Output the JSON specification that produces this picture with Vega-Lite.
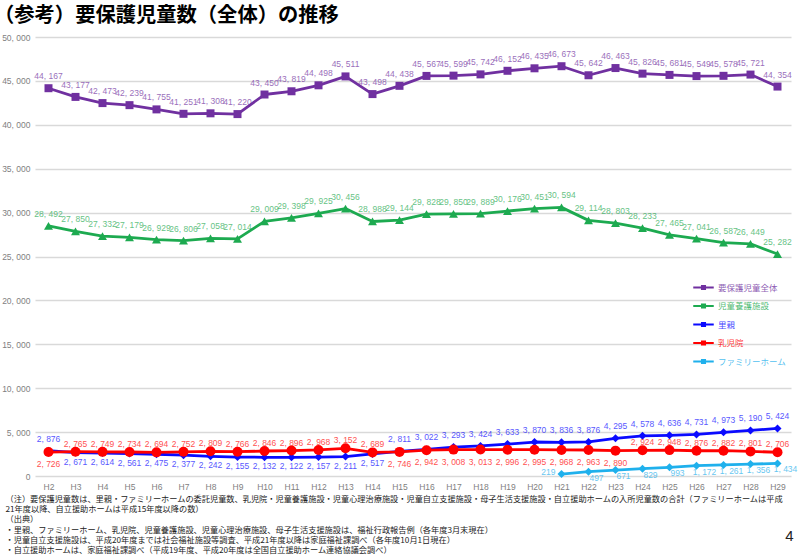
{
  "$schema": "https://vega.github.io/schema/vega-lite/v6.json",
  "autosize": {"type": "none"},
  "width": 756,
  "height": 439,
  "padding": {"left": 35, "top": 37, "right": 9, "bottom": 80},
  "background": "white",
  "config": {
    "locale": {"number": {"decimal": ".", "thousands": ", ", "grouping": [3], "currency": ["¥", ""]}},
    "view": {"stroke": null}
  },
  "title": {
    "text": "（参考）要保護児童数（全体）の推移",
    "anchor": "start",
    "frame": "group",
    "font": "Noto Sans CJK JP",
    "fontSize": 20.3,
    "fontWeight": "bold",
    "color": "#000000",
    "dx": -41,
    "dy": 19.5,
    "baseline": "alphabetic",
    "offset": 10
  },
  "data": {"values": [
    {"year": "H2", "series": "要保護児童全体", "value": 44167},
    {"year": "H3", "series": "要保護児童全体", "value": 43177},
    {"year": "H4", "series": "要保護児童全体", "value": 42473},
    {"year": "H5", "series": "要保護児童全体", "value": 42239},
    {"year": "H6", "series": "要保護児童全体", "value": 41755},
    {"year": "H7", "series": "要保護児童全体", "value": 41251},
    {"year": "H8", "series": "要保護児童全体", "value": 41308},
    {"year": "H9", "series": "要保護児童全体", "value": 41220},
    {"year": "H10", "series": "要保護児童全体", "value": 43450},
    {"year": "H11", "series": "要保護児童全体", "value": 43819},
    {"year": "H12", "series": "要保護児童全体", "value": 44498},
    {"year": "H13", "series": "要保護児童全体", "value": 45511},
    {"year": "H14", "series": "要保護児童全体", "value": 43498},
    {"year": "H15", "series": "要保護児童全体", "value": 44438},
    {"year": "H16", "series": "要保護児童全体", "value": 45567},
    {"year": "H17", "series": "要保護児童全体", "value": 45599},
    {"year": "H18", "series": "要保護児童全体", "value": 45742},
    {"year": "H19", "series": "要保護児童全体", "value": 46152},
    {"year": "H20", "series": "要保護児童全体", "value": 46435},
    {"year": "H21", "series": "要保護児童全体", "value": 46673},
    {"year": "H22", "series": "要保護児童全体", "value": 45642},
    {"year": "H23", "series": "要保護児童全体", "value": 46463},
    {"year": "H24", "series": "要保護児童全体", "value": 45826},
    {"year": "H25", "series": "要保護児童全体", "value": 45681},
    {"year": "H26", "series": "要保護児童全体", "value": 45549},
    {"year": "H27", "series": "要保護児童全体", "value": 45578},
    {"year": "H28", "series": "要保護児童全体", "value": 45721},
    {"year": "H29", "series": "要保護児童全体", "value": 44354},
    {"year": "H2", "series": "児童養護施設", "value": 28492},
    {"year": "H3", "series": "児童養護施設", "value": 27850},
    {"year": "H4", "series": "児童養護施設", "value": 27332},
    {"year": "H5", "series": "児童養護施設", "value": 27179},
    {"year": "H6", "series": "児童養護施設", "value": 26929},
    {"year": "H7", "series": "児童養護施設", "value": 26806},
    {"year": "H8", "series": "児童養護施設", "value": 27058},
    {"year": "H9", "series": "児童養護施設", "value": 27014},
    {"year": "H10", "series": "児童養護施設", "value": 29009},
    {"year": "H11", "series": "児童養護施設", "value": 29398},
    {"year": "H12", "series": "児童養護施設", "value": 29925},
    {"year": "H13", "series": "児童養護施設", "value": 30456},
    {"year": "H14", "series": "児童養護施設", "value": 28988},
    {"year": "H15", "series": "児童養護施設", "value": 29144},
    {"year": "H16", "series": "児童養護施設", "value": 29828},
    {"year": "H17", "series": "児童養護施設", "value": 29850},
    {"year": "H18", "series": "児童養護施設", "value": 29889},
    {"year": "H19", "series": "児童養護施設", "value": 30176},
    {"year": "H20", "series": "児童養護施設", "value": 30451},
    {"year": "H21", "series": "児童養護施設", "value": 30594},
    {"year": "H22", "series": "児童養護施設", "value": 29114},
    {"year": "H23", "series": "児童養護施設", "value": 28803},
    {"year": "H24", "series": "児童養護施設", "value": 28233},
    {"year": "H25", "series": "児童養護施設", "value": 27465},
    {"year": "H26", "series": "児童養護施設", "value": 27041},
    {"year": "H27", "series": "児童養護施設", "value": 26587},
    {"year": "H28", "series": "児童養護施設", "value": 26449},
    {"year": "H29", "series": "児童養護施設", "value": 25282},
    {"year": "H2", "series": "里親", "value": 2876},
    {"year": "H3", "series": "里親", "value": 2671},
    {"year": "H4", "series": "里親", "value": 2614},
    {"year": "H5", "series": "里親", "value": 2561},
    {"year": "H6", "series": "里親", "value": 2475},
    {"year": "H7", "series": "里親", "value": 2377},
    {"year": "H8", "series": "里親", "value": 2242},
    {"year": "H9", "series": "里親", "value": 2155},
    {"year": "H10", "series": "里親", "value": 2132},
    {"year": "H11", "series": "里親", "value": 2122},
    {"year": "H12", "series": "里親", "value": 2157},
    {"year": "H13", "series": "里親", "value": 2211},
    {"year": "H14", "series": "里親", "value": 2517},
    {"year": "H15", "series": "里親", "value": 2811},
    {"year": "H16", "series": "里親", "value": 3022},
    {"year": "H17", "series": "里親", "value": 3293},
    {"year": "H18", "series": "里親", "value": 3424},
    {"year": "H19", "series": "里親", "value": 3633},
    {"year": "H20", "series": "里親", "value": 3870},
    {"year": "H21", "series": "里親", "value": 3836},
    {"year": "H22", "series": "里親", "value": 3876},
    {"year": "H23", "series": "里親", "value": 4295},
    {"year": "H24", "series": "里親", "value": 4578},
    {"year": "H25", "series": "里親", "value": 4636},
    {"year": "H26", "series": "里親", "value": 4731},
    {"year": "H27", "series": "里親", "value": 4973},
    {"year": "H28", "series": "里親", "value": 5190},
    {"year": "H29", "series": "里親", "value": 5424},
    {"year": "H2", "series": "乳児院", "value": 2726},
    {"year": "H3", "series": "乳児院", "value": 2765},
    {"year": "H4", "series": "乳児院", "value": 2749},
    {"year": "H5", "series": "乳児院", "value": 2734},
    {"year": "H6", "series": "乳児院", "value": 2694},
    {"year": "H7", "series": "乳児院", "value": 2752},
    {"year": "H8", "series": "乳児院", "value": 2809},
    {"year": "H9", "series": "乳児院", "value": 2766},
    {"year": "H10", "series": "乳児院", "value": 2846},
    {"year": "H11", "series": "乳児院", "value": 2896},
    {"year": "H12", "series": "乳児院", "value": 2968},
    {"year": "H13", "series": "乳児院", "value": 3152},
    {"year": "H14", "series": "乳児院", "value": 2689},
    {"year": "H15", "series": "乳児院", "value": 2746},
    {"year": "H16", "series": "乳児院", "value": 2942},
    {"year": "H17", "series": "乳児院", "value": 3008},
    {"year": "H18", "series": "乳児院", "value": 3013},
    {"year": "H19", "series": "乳児院", "value": 2996},
    {"year": "H20", "series": "乳児院", "value": 2995},
    {"year": "H21", "series": "乳児院", "value": 2968},
    {"year": "H22", "series": "乳児院", "value": 2963},
    {"year": "H23", "series": "乳児院", "value": 2890},
    {"year": "H24", "series": "乳児院", "value": 2924},
    {"year": "H25", "series": "乳児院", "value": 2948},
    {"year": "H26", "series": "乳児院", "value": 2876},
    {"year": "H27", "series": "乳児院", "value": 2882},
    {"year": "H28", "series": "乳児院", "value": 2801},
    {"year": "H29", "series": "乳児院", "value": 2706},
    {"year": "H21", "series": "ファミリーホーム", "value": 219},
    {"year": "H22", "series": "ファミリーホーム", "value": 497},
    {"year": "H23", "series": "ファミリーホーム", "value": 671},
    {"year": "H24", "series": "ファミリーホーム", "value": 829},
    {"year": "H25", "series": "ファミリーホーム", "value": 993},
    {"year": "H26", "series": "ファミリーホーム", "value": 1172},
    {"year": "H27", "series": "ファミリーホーム", "value": 1261},
    {"year": "H28", "series": "ファミリーホーム", "value": 1356},
    {"year": "H29", "series": "ファミリーホーム", "value": 1434}
  ]},
  "encoding": {
    "x": {
      "field": "year", "type": "ordinal", "sort": null,
      "scale": {"domain": ["H2","H3","H4","H5","H6","H7","H8","H9","H10","H11","H12","H13","H14","H15","H16","H17","H18","H19","H20","H21","H22","H23","H24","H25","H26","H27","H28","H29"], "padding": 0.5},
      "axis": {
        "labelAngle": 0, "labelFont": "Liberation Sans, Arial, sans-serif", "labelFontSize": 8.5, "labelColor": "#7f7f7f",
        "labelPadding": 6, "ticks": false, "domain": false, "grid": false,
        "title": ["（注）要保護児童数は、里親・ファミリーホームの委託児童数、乳児院・児童養護施設・児童心理治療施設・児童自立支援施設・母子生活支援施設・自立援助ホームの入所児童数の合計（ファミリーホームは平成", "\u00a0\u00a0\u00a0\u00a0\u00a0\u00a0\u00a021年度以降、自立援助ホームは平成15年度以降の数）", "（出典）", "・里親、ファミリーホーム、乳児院、児童養護施設、児童心理治療施設、母子生活支援施設は、福祉行政報告例（各年度3月末現在）", "・児童自立支援施設は、平成20年度までは社会福祉施設等調査、平成21年度以降は家庭福祉課調べ（各年度10月1日現在）", "・自立援助ホームは、家庭福祉課調べ（平成19年度、平成20年度は全国自立援助ホーム連絡協議会調べ）"],
        "titleX": -30, "titleY": 19.5, "titleAlign": "left", "titleAnchor": "start", "titleBaseline": "top",
        "titleFont": "Noto Sans CJK JP", "titleFontSize": 8.2, "titleFontWeight": "normal", "titleColor": "#222222", "titleLineHeight": 10.2
      }
    },
    "y": {
      "field": "value", "type": "quantitative",
      "scale": {"domain": [0, 50000], "nice": false},
      "axis": {
        "values": [0,5000,10000,15000,20000,25000,30000,35000,40000,45000,50000],
        "format": ",.0f", "labelFont": "Liberation Sans, Arial, sans-serif", "labelFontSize": 8.5, "labelColor": "#7f7f7f",
        "labelPadding": 5, "ticks": false, "domain": false,
        "gridColor": "#d9d9d9", "gridWidth": 1.5,
        "title": "4", "titleAngle": 0, "titleX": 754, "titleY": 498, "titleAlign": "center", "titleBaseline": "middle",
        "titleFont": "Liberation Sans, Arial, sans-serif", "titleFontSize": 15, "titleFontWeight": "normal", "titleColor": "#222222"
      }
    },
    "color": {
      "field": "series", "type": "nominal",
      "scale": {"domain": ["要保護児童全体", "児童養護施設", "里親", "乳児院", "ファミリーホーム"], "range": ["#7030A0", "#1DAA50", "#0A0AFF", "#FF0000", "#1FB0EC"]},
      "legend": {
        "orient": "none", "legendX": 657, "legendY": 239, "title": null, "padding": 0,
        "symbolType": "M-1,0H1M-0.15,-0.15H0.15V0.15H-0.15Z", "symbolSize": 420, "symbolStrokeWidth": 2,
        "labelFont": "Noto Sans CJK JP", "labelFontSize": 8.5, "labelOffset": 3, "rowPadding": 0.5,
        "encode": {
          "symbols": {"update": {"fill": {"scale": "color", "field": "value"}, "stroke": {"scale": "color", "field": "value"}, "strokeWidth": {"value": 2}, "opacity": {"value": 1}}},
          "labels": {"update": {"fill": {"scale": "color", "field": "value"}, "fillOpacity": {"value": 0.8}}}
        }
      }
    }
  },
  "layer": [
    {"mark": {"type": "line", "strokeWidth": 2.8, "strokeJoin": "round"}},
    {"transform": [{"filter": "datum.series === '要保護児童全体'"}], "mark": {"type": "point", "shape": "square", "size": 64, "filled": true, "opacity": 1}},
    {"transform": [{"filter": "datum.series === '児童養護施設'"}], "mark": {"type": "point", "shape": "triangle-up", "size": 80, "filled": true, "opacity": 1}},
    {"transform": [{"filter": "datum.series === '里親'"}], "mark": {"type": "point", "shape": "diamond", "size": 64, "filled": true, "opacity": 1}},
    {"transform": [{"filter": "datum.series === '乳児院'"}], "mark": {"type": "point", "shape": "circle", "size": 100, "filled": true, "opacity": 1}},
    {"transform": [{"filter": "datum.series === 'ファミリーホーム'"}], "mark": {"type": "point", "shape": "diamond", "size": 64, "filled": true, "opacity": 1}},
    {
      "transform": [{"filter": "datum.series === '要保護児童全体' || datum.series === '児童養護施設' || (datum.series === '里親' && indexof(['H3','H4','H5','H6','H7','H8','H9','H10','H11','H12','H13','H14'], datum.year) < 0)"}],
      "mark": {"type": "text", "font": "Liberation Sans, Arial, sans-serif", "fontSize": 8.5, "baseline": "bottom", "dy": -7, "opacity": 0.7},
      "encoding": {"text": {"field": "value", "type": "quantitative", "format": ",.0f"}}
    },
    {
      "transform": [{"filter": "datum.series === '乳児院' && indexof(['H2','H15','H16','H17','H18','H19','H20','H21','H22','H23'], datum.year) < 0"}],
      "mark": {"type": "text", "font": "Liberation Sans, Arial, sans-serif", "fontSize": 8.5, "baseline": "bottom", "dy": -3, "opacity": 0.7},
      "encoding": {"text": {"field": "value", "type": "quantitative", "format": ",.0f"}}
    },
    {
      "transform": [{"filter": "datum.series === '里親' && indexof(['H3','H4','H5','H6','H7','H8','H9','H10','H11','H12','H13','H14'], datum.year) >= 0"}],
      "mark": {"type": "text", "font": "Liberation Sans, Arial, sans-serif", "fontSize": 8.5, "baseline": "top", "dy": 5, "opacity": 0.7},
      "encoding": {"text": {"field": "value", "type": "quantitative", "format": ",.0f"}}
    },
    {
      "transform": [{"filter": "datum.series === '乳児院' && indexof(['H2','H15','H16','H17','H18','H19','H20','H21','H22','H23'], datum.year) >= 0"}],
      "mark": {"type": "text", "font": "Liberation Sans, Arial, sans-serif", "fontSize": 8.5, "baseline": "top", "dy": 8, "opacity": 0.7},
      "encoding": {"text": {"field": "value", "type": "quantitative", "format": ",.0f"}}
    },
    {
      "transform": [{"filter": "datum.series === 'ファミリーホーム' && datum.year !== 'H21'"}],
      "mark": {"type": "text", "font": "Liberation Sans, Arial, sans-serif", "fontSize": 8.5, "baseline": "middle", "dx": 8, "dy": 6, "opacity": 0.7},
      "encoding": {"text": {"field": "value", "type": "quantitative", "format": ",.0f"}}
    },
    {
      "transform": [{"filter": "datum.series === 'ファミリーホーム' && datum.year === 'H21'"}],
      "mark": {"type": "text", "font": "Liberation Sans, Arial, sans-serif", "fontSize": 8.5, "baseline": "middle", "align": "right", "dx": -6, "dy": -2, "opacity": 0.7},
      "encoding": {"text": {"field": "value", "type": "quantitative", "format": ",.0f"}}
    }
  ]
}
